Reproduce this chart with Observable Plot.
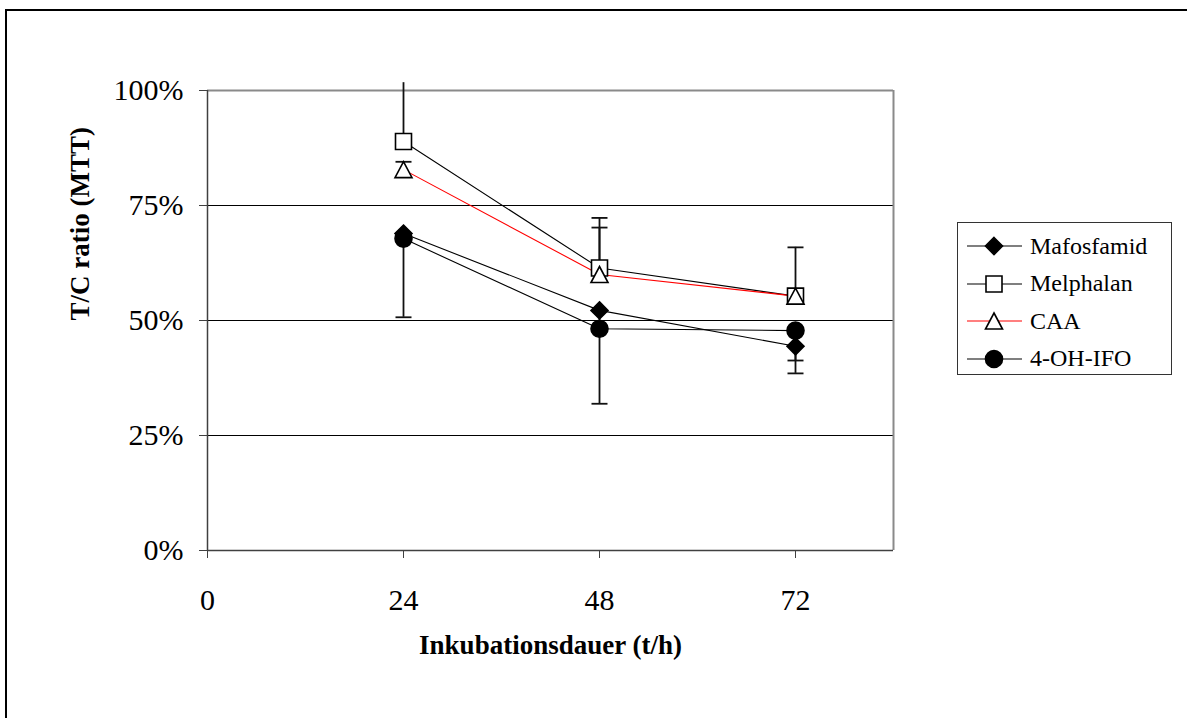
<!DOCTYPE html>
<html>
<head>
<meta charset="utf-8">
<script src="https://cdn.jsdelivr.net/npm/d3@7"></script>
<script src="https://cdn.jsdelivr.net/npm/@observablehq/plot@0.6"></script>
<style>
  html, body { margin: 0; padding: 0; background: #fff; overflow: hidden; }
  #page { position: relative; width: 1187px; height: 718px; overflow: hidden; font-family: "Liberation Serif", "Times New Roman", serif; }
  #outer { position: absolute; left: 5px; top: 9px; width: 1400px; height: 900px;
           border-top: 2.5px solid #000; border-left: 2.5px solid #000; box-sizing: border-box; }
  #chart { position: absolute; left: 0; top: 0; }
  #legend { position: absolute; left: 957px; top: 222px; width: 215px; height: 153px;
            border: 1.5px solid #333; box-sizing: border-box; background: #fff; }
  .item { position: absolute; left: 0; height: 30px; display: flex; align-items: center; }
  .item svg { display: block; }
  .item span { font-size: 24px; color: #000; margin-left: 6px; white-space: nowrap; }
</style>
</head>
<body>
<div id="page">
  <div id="outer"></div>
  <div id="chart"></div>
  <div id="legend"></div>
</div>
<script>
// Incubation times (hours) and axis ticks
const hours = [24, 48, 72];
const xTicks = [0, 24, 48, 72];
const yTicks = [0, 25, 50, 75, 100];

// T/C ratio (%) per compound
const seriesNames = ["Mafosfamid", "Melphalan", "CAA", "4-OH-IFO"];
const mafosfamid = [68.9, 52.2, 44.4];
const melphalan  = [88.9, 61.4, 55.3];
const caa        = [82.8, 60.0, 55.3];
const ohIfo      = [67.8, 48.2, 47.8];

// Error bars: upper bars for the upper series, lower bars for the lower ones
const melphalanErrUp    = [12.8, 10.9, 10.6];
const caaErrUp          = [1.7, 10.2, 0.8];
const mafosfamidErrDown = [1.5, 4.0, 3.1];
const ohIfoErrDown      = [17.1, 16.3, 9.3];

// Marker shapes (fixed pixel size)
const diamondSym = {draw(c) { const h = 8.5; c.moveTo(0, -h); c.lineTo(h, 0); c.lineTo(0, h); c.lineTo(-h, 0); c.closePath(); }};
const squareSym  = {draw(c) { const h = 8; c.moveTo(-h, -h); c.lineTo(h, -h); c.lineTo(h, h); c.lineTo(-h, h); c.closePath(); }};
const triangleSym = {draw(c) { c.moveTo(0, -8); c.lineTo(8.5, 8); c.lineTo(-8.5, 8); c.closePath(); }};
const circleSym  = {draw(c) { const r = 8.5; c.moveTo(r, 0); c.arc(0, 0, r, 0, 2 * Math.PI); c.closePath(); }};
const capSym     = {draw(c) { c.moveTo(-8, 0); c.lineTo(8, 0); }};

const seriesValues = [mafosfamid, melphalan, caa, ohIfo];
const styles = [
  {line: "#000", symbol: diamondSym, fill: "#000"},
  {line: "#000", symbol: squareSym, fill: "#fff"},
  {line: "#ff0000", symbol: triangleSym, fill: "#fff"},
  {line: "#000", symbol: circleSym, fill: "#000"}
];

const rows = seriesNames.map((name, i) =>
  hours.map((h, j) => ({series: name, hour: h, value: seriesValues[i][j]})));

// Error bar segments and caps
const errSpecs = [
  {values: melphalan, err: melphalanErrUp, dir: 1},
  {values: caa, err: caaErrUp, dir: 1},
  {values: mafosfamid, err: mafosfamidErrDown, dir: -1},
  {values: ohIfo, err: ohIfoErrDown, dir: -1}
];
const errRows = [];
for (const s of errSpecs) {
  hours.forEach((h, j) => {
    const end = s.values[j] + s.dir * s.err[j];
    errRows.push({hour: h, from: s.values[j], to: end, cap: end <= 100});
  });
}
const capRows = errRows.filter(d => d.cap);

const marks = [
  Plot.ruleY([25, 50, 75], {stroke: "#000", strokeWidth: 1}),
  Plot.ruleY([100], {stroke: "#8a8a8a", strokeWidth: 2}),
  Plot.ruleX([84], {stroke: "#8a8a8a", strokeWidth: 2}),
  Plot.ruleX([0], {stroke: "#404040", strokeWidth: 1.5}),
  Plot.ruleY([0], {stroke: "#404040", strokeWidth: 1.5}),
  Plot.axisX(xTicks, {tickSize: 8, tickPadding: 30, label: null, tickFormat: d => String(d), stroke: "#404040"}),
  Plot.axisY(yTicks, {tickSize: 8, tickPadding: 16, label: null, tickFormat: d => d + "%", stroke: "#404040"}),
  Plot.ruleX(errRows, {x: "hour", y1: "from", y2: "to", stroke: "#111", strokeWidth: 1.8}),
  Plot.dot(capRows, {x: "hour", y: "to", symbol: capSym, fill: "none", stroke: "#111", strokeWidth: 1.8})
];
rows.forEach((r, i) => {
  marks.push(Plot.line(r, {x: "hour", y: "value", stroke: styles[i].line, strokeWidth: 1.1}));
});
rows.forEach((r, i) => {
  marks.push(Plot.dot(r, {x: "hour", y: "value", symbol: styles[i].symbol,
    fill: styles[i].fill, stroke: "#000", strokeWidth: 1.6}));
});
marks.push(
  Plot.text(["Inkubationsdauer (t/h)"], {frameAnchor: "bottom", dy: 95, fontSize: 27, fontWeight: "bold", lineAnchor: "middle"}),
  Plot.text(["T/C ratio (MTT)"], {frameAnchor: "left", dx: -127, rotate: -90, fontSize: 27, fontWeight: "bold", lineAnchor: "middle"})
);

const chart = Plot.plot({
  width: 1187,
  height: 718,
  marginLeft: 207,
  marginRight: 294,
  marginTop: 90,
  marginBottom: 168,
  style: {fontFamily: "'Liberation Serif', 'Times New Roman', serif", fontSize: "30px", color: "#000", background: "transparent", overflow: "visible"},
  x: {domain: [0, 84]},
  y: {domain: [0, 100]},
  marks
});
document.getElementById("chart").appendChild(chart);

// Legend
const legend = document.getElementById("legend");
seriesNames.forEach((name, i) => {
  const item = document.createElement("div");
  item.className = "item";
  item.style.top = (8 + i * 37.5) + "px";
  const svg = d3.create("svg").attr("width", 66).attr("height", 30);
  svg.append("line").attr("x1", 9).attr("x2", 64).attr("y1", 15).attr("y2", 15)
    .attr("stroke", styles[i].line).attr("stroke-width", 1.2);
  const p = d3.path(); styles[i].symbol.draw(p);
  svg.append("path").attr("d", p.toString()).attr("transform", "translate(36,15)")
    .attr("fill", styles[i].fill).attr("stroke", "#000").attr("stroke-width", 1.6);
  item.appendChild(svg.node());
  const label = document.createElement("span");
  label.textContent = name;
  item.appendChild(label);
  legend.appendChild(item);
});
</script>
</body>
</html>
